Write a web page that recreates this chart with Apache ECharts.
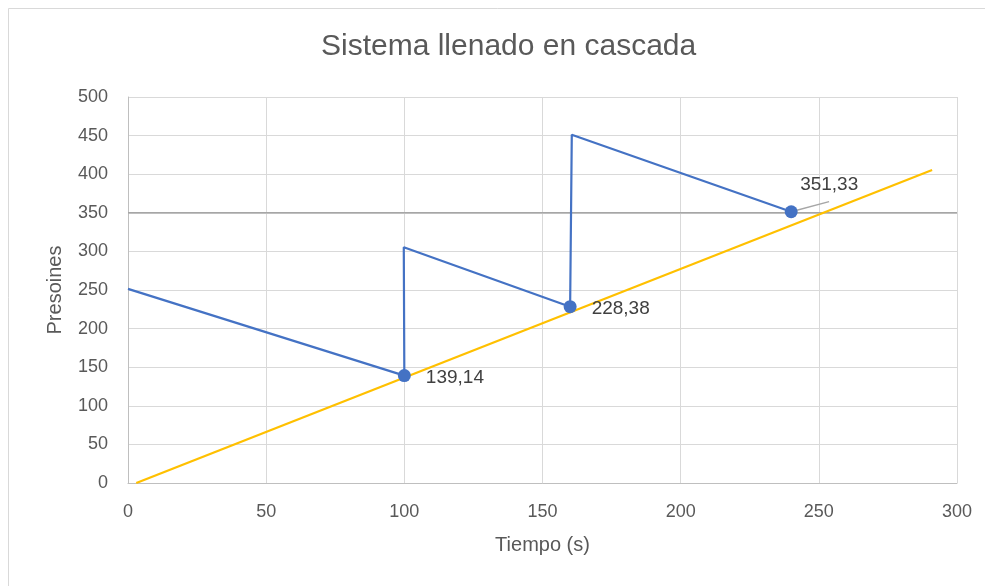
<!DOCTYPE html>
<html><head><meta charset="utf-8">
<script src="https://cdn.jsdelivr.net/npm/echarts@6/dist/echarts.min.js"></script>
<style>html,body{margin:0;padding:0;background:#fff}#c{width:985px;height:586px}</style>
</head><body><div id="c"></div>
<script>
const titleText = 'Sistema llenado en cascada';
const xName = 'Tiempo (s)';
const yName = 'Presoines';
// Blue series (cascade pressures)
const blueX = [0, 100, 99.8, 160, 160.6, 240];
const blueY = [251.5, 139.14, 305.3, 228.38, 451, 351.33];
const labeledIdx = [1, 3, 5];
const labelTexts = ['139,14', '228,38', '351,33'];
// Yellow series
const yellowX = [3, 291];
const yellowY = [0, 405.5];
// Reference line at 350
const refX = [0, 300];
const refY = [350, 350];
// Leader line of the last label
const leaderX = [240, 253.7];
const leaderY = [351.33, 364.5];

const FONT = 'Liberation Sans';
const blueData = blueX.map((x, i) => {
  const k = labeledIdx.indexOf(i);
  if (k < 0) return { value: [x, blueY[i]], symbol: 'none' };
  const last = k === 2;
  return {
    value: [x, blueY[i]], symbol: 'circle', symbolSize: 13,
    label: {
      show: true, formatter: labelTexts[k],
      position: last ? 'top' : 'right',
      offset: last ? [38, -6] : [10, 2],
      color: '#404040', fontSize: 19, fontFamily: FONT
    }
  };
});

const chart = echarts.init(document.getElementById('c'));
chart.setOption({
  animation: false,
  backgroundColor: '#fff',
  graphic: [{ type: 'rect', shape: { x: 8.5, y: 8.5, width: 1100, height: 1100 }, style: { fill: 'none', stroke: '#d9d9d9', lineWidth: 1 }, z: -10 }],
  title: { text: titleText, left: 316, top: 27, textStyle: { color: '#595959', fontSize: 30, fontWeight: 'normal', fontFamily: FONT } },
  grid: { left: 128, right: 28, top: 97, bottom: 103 },
  xAxis: {
    type: 'value', min: 0, max: 300, interval: 50,
    name: xName, nameLocation: 'middle', nameGap: 52,
    nameTextStyle: { color: '#595959', fontSize: 20, fontFamily: FONT },
    axisLine: { show: true, lineStyle: { color: '#bfbfbf' } }, axisTick: { show: false },
    axisLabel: { color: '#595959', fontSize: 18, fontFamily: FONT, margin: 20 },
    splitLine: { show: true, lineStyle: { color: '#d9d9d9' } }
  },
  yAxis: {
    type: 'value', min: 0, max: 500, interval: 50,
    name: yName, nameLocation: 'middle', nameGap: 63,
    nameTextStyle: { color: '#595959', fontSize: 20, fontFamily: FONT },
    axisLine: { show: true, lineStyle: { color: '#bfbfbf' } }, axisTick: { show: false },
    axisLabel: { color: '#595959', fontSize: 18, fontFamily: FONT, margin: 20 },
    splitLine: { show: true, lineStyle: { color: '#d9d9d9' } }
  },
  series: [
    { type: 'line', data: refX.map((x, i) => [x, refY[i]]), symbol: 'none', lineStyle: { color: '#a6a6a6', width: 1.5 }, z: 1 },
    { type: 'line', data: yellowX.map((x, i) => [x, yellowY[i]]), symbol: 'none', lineStyle: { color: '#ffc000', width: 2.2 }, z: 3 },
    { type: 'line', data: blueData, itemStyle: { color: '#4472c4' }, lineStyle: { color: '#4472c4', width: 2.2 }, z: 4 },
    { type: 'line', data: leaderX.map((x, i) => [x, leaderY[i]]), symbol: 'none', lineStyle: { color: '#a6a6a6', width: 1.5 }, z: 2 }
  ]
});
</script></body></html>
